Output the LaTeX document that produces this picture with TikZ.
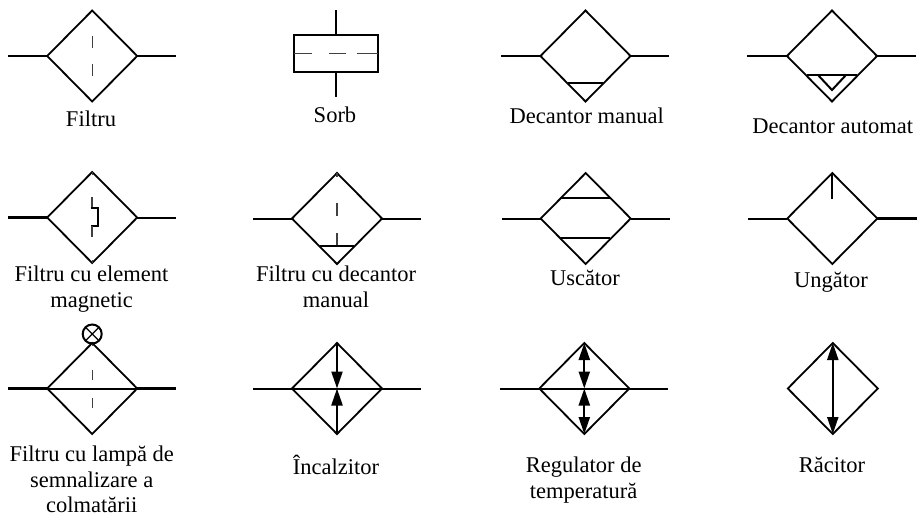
\documentclass[tikz,border=0pt]{standalone}
\usepackage{fontspec}
\setmainfont{Liberation Serif}
\usetikzlibrary{arrows.meta, positioning, shapes.geometric}

\tikzset{
  valve/.style={diamond, draw, line width=0.9pt, minimum width=45pt, minimum height=45.5pt, inner sep=0pt, outer sep=0pt},
  wire/.style={line width=1pt},
  heavywire/.style={line width=1.4pt},
  chord/.style={line width=1pt},
  dashwire/.style={line width=0.6pt, black!75},
  flow/.style={line width=1.1pt, -{Triangle[width=5.5pt,length=8.5pt]}},
  flowboth/.style={line width=1.1pt, {Triangle[width=5.5pt,length=8.5pt]}-{Triangle[width=5.5pt,length=8.5pt]}},
  symname/.style={font=\fontsize{11.25}{12.75}\selectfont, align=center, inner sep=0pt, anchor=base}
}

\begin{document}
\begin{tikzpicture}[x=0.5pt, y=-0.5pt]
	\useasboundingbox (0,0) rectangle (918,515);

	% Filtru
	\node[valve] (fil) at (92.2,56) {};
	\coordinate (fil-l) at (8,56);
	\coordinate (fil-r) at (176,56);
	\draw[heavywire] (fil-l) -- (fil.west);
	\draw[wire] (fil.east) -- (fil-r);
	\draw[dashwire, dash pattern=on 0pt off 12.75pt on 6pt off 8pt on 6pt off 13pt] (fil.north) -- (fil.south);
	\node[symname] (filname) at (91,126) {Filtru};

	% Sorb
	\node[draw, wire, minimum width=41.75pt, minimum height=18.5pt, inner sep=0pt, outer sep=0pt] (sb) at (335.75,53.5) {};
	\coordinate (sb-t) at (335.75,10);
	\coordinate (sb-b) at (335.75,97);
	\draw[wire] (sb-t) -- (sb.north);
	\draw[wire] (sb.south) -- (sb-b);
	\draw[dashwire, dash pattern=on 9pt off 8.5pt on 8.5pt off 5.5pt on 9.5pt off 0pt] (sb.west) -- (sb.east);
	\node[symname] (sbname) at (335,122) {Sorb};

	% Decantor manual
	\node[valve] (dm) at (585.5,56) {};
	\coordinate (dm-l) at (501,56);
	\coordinate (dm-r) at (669,56);
	\draw[wire] (dm-l) -- (dm.west);
	\draw[wire] (dm.east) -- (dm-r);
	\draw[chord] (568,83) -- (603,83);
	\node[symname] (dmname) at (586.7,123) {Decantor manual};

	% Decantor automat
	\node[valve] (da) at (832,56) {};
	\coordinate (da-l) at (747,56);
	\coordinate (da-r) at (916,56);
	\draw[wire] (da-l) -- (da.west);
	\draw[heavywire] (da.east) -- (da-r);
	\draw[chord] (807,75) -- (857,75);
	\draw[wire] (818,75) -- (832,90) -- (846,75);
	\node[symname] (daname) at (832.7,133) {Decantor automat};

	% Filtru cu element magnetic
	\node[valve] (fm) at (92.2,217.5) {};
	\coordinate (fm-l) at (8,217.5);
	\coordinate (fm-r) at (176,217.5);
	\draw[heavywire] (fm-l) -- (fm.west);
	\draw[wire] (fm.east) -- (fm-r);
	\draw[dashwire] (fm.north) -- ++(0,3);
	\draw[dashwire] (fm.south) -- ++(0,-3);
	\draw[dashwire] (92,197) -- (92,208);
	\draw[wire] (90.5,208) -- (98,208) -- (98,226) -- (90.5,226);
	\draw[dashwire] (92,226) -- (92,237);
	\node[symname] (fmname) at (91.5,307) {Filtru cu element\\magnetic};

	% Filtru cu decantor manual
	\node[valve] (fd) at (337,218.5) {};
	\coordinate (fd-l) at (253,218.5);
	\coordinate (fd-r) at (421,218.5);
	\draw[wire] (fd-l) -- (fd.west);
	\draw[wire] (fd.east) -- (fd-r);
	\draw[dashwire, dash pattern=on 2pt off 13pt on 6.5pt off 8.5pt on 6.5pt off 20pt] (fd.north) -- (337,246);
	\draw[chord] (320,246) -- (354,246);
	\node[symname] (fdname) at (336,307) {Filtru cu decantor\\manual};

	% Uscator
	\node[valve] (us) at (585.7,218.5) {};
	\coordinate (us-l) at (502,218.5);
	\coordinate (us-r) at (669.5,218.5);
	\draw[wire] (us-l) -- (us.west);
	\draw[wire] (us.east) -- (us-r);
	\draw[chord] (561,198) -- (610,198);
	\draw[chord] (561,238) -- (610,238);
	\node[symname] (usname) at (585,285) {Uscător};

	% Ungator
	\node[valve] (un) at (832.3,218.5) {};
	\coordinate (un-l) at (748,218.5);
	\coordinate (un-r) at (917,218.5);
	\coordinate (un-s) at (832.3,199);
	\draw[wire] (un-l) -- (un.west);
	\draw[heavywire] (un.east) -- (un-r);
	\draw[chord] (un.north) -- (un-s);
	\node[symname] (unname) at (831,287) {Ungător};

	% Filtru cu lampa
	\node[valve] (fl) at (92.2,388.5) {};
	\coordinate (fl-l) at (8,388.5);
	\coordinate (fl-r) at (176,388.5);
	\draw[heavywire] (fl-l) -- (fl.west);
	\draw[wire] (fl.west) -- (fl.east);
	\draw[heavywire] (fl.east) -- (fl-r);
	\draw[dashwire, dash pattern=on 1.5pt off 12pt on 5pt off 9pt on 5pt off 13pt] (fl.north) -- (fl.south);
	\node[circle, draw, wire, minimum size=9.5pt, inner sep=0pt, outer sep=0pt] (lamp) at (92.2,334) {};
	\draw[dashwire, black] (lamp.45) -- (lamp.225);
	\draw[dashwire, black] (lamp.135) -- (lamp.315);
	\node[symname] (flname) at (91.7,512.5) {Filtru cu lampă de\\semnalizare a\\colmatării};

	% Incalzitor
	\node[valve] (in) at (337,388.5) {};
	\coordinate (in-l) at (253,388.5);
	\coordinate (in-r) at (421,388.5);
	\draw[wire] (in-l) -- (in.west);
	\draw[wire] (in.west) -- (in.east);
	\draw[wire] (in.east) -- (in-r);
	\draw[flow] (in.north) -- (in.center);
	\draw[flow] (in.south) -- (in.center);
	\node[symname] (inname) at (336,474) {Încalzitor};

	% Regulator de temperatura
	\node[valve] (rt) at (584.3,388.5) {};
	\coordinate (rt-l) at (500,388.5);
	\coordinate (rt-r) at (668,388.5);
	\draw[wire] (rt-l) -- (rt.west);
	\draw[wire] (rt.west) -- (rt.east);
	\draw[wire] (rt.east) -- (rt-r);
	\draw[flowboth] (rt.north) -- (rt.center);
	\draw[flowboth] (rt.center) -- (rt.south);
	\node[symname] (rtname) at (583.7,498) {Regulator de\\temperatură};

	% Racitor
	\node[valve] (rc) at (832.8,388.5) {};
	\draw[flowboth] (rc.north) -- (rc.south);
	\node[symname] (rcname) at (832,472) {Răcitor};
\end{tikzpicture}
\end{document}
